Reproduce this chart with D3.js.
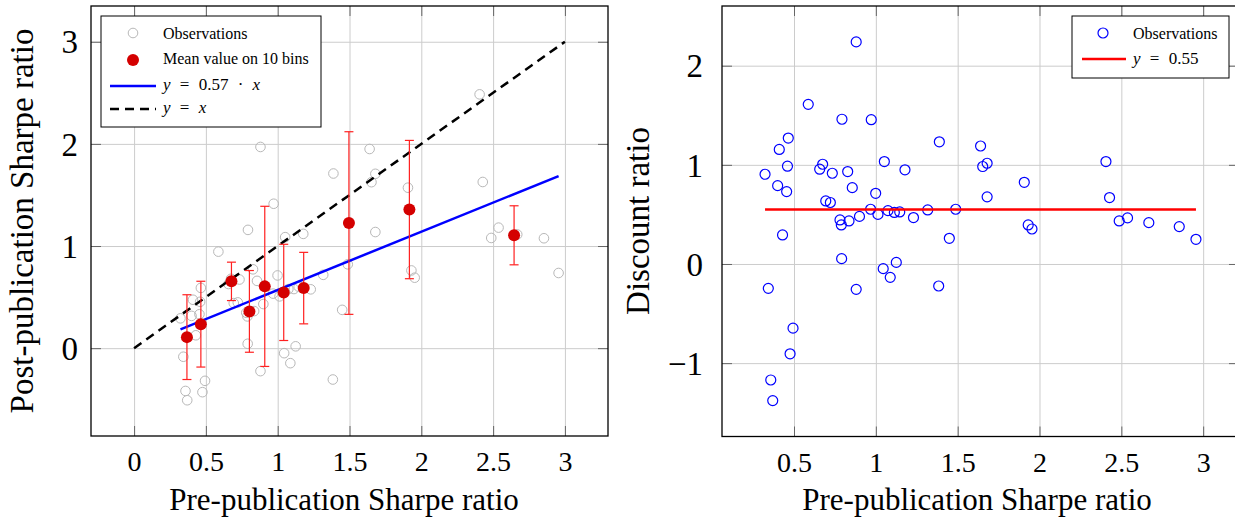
<!DOCTYPE html>
<html>
<head>
<meta charset="utf-8">
<script src="https://cdn.jsdelivr.net/npm/d3@7"></script>
<style>
  body { margin: 0; background: #fff; }
  svg { display: block; }
</style>
</head>
<body>
<svg id="chart" width="1235" height="521"></svg>
<script>
// pre-publication Sharpe ratio of each factor (shared by both panels)
const preSharpe = [
  0.88, 0.587, 0.793, 0.972, 0.465, 0.41, 1.388, 0.323, 0.46, 0.675,
  0.657, 0.734, 0.828, 1.052, 1.178, 0.40, 0.455, 0.856, 0.999, 0.694,
  0.722, 0.968, 1.013, 1.074, 1.113, 1.146, 0.90, 1.23, 1.317, 1.488,
  0.781, 0.836, 0.789, 0.43, 1.449, 0.791, 0.343, 0.88, 1.045, 1.125,
  1.088, 1.384, 0.494, 0.476, 0.358, 0.37, 1.64, 1.653, 1.68, 1.68,
  1.907, 1.931, 1.954, 2.406, 2.428, 2.487, 2.538, 2.668, 2.854, 2.956
];
const postSharpe = [
  1.97, 0.945, 1.158, 1.414, 0.59, 0.474, 1.71, 0.292, 0.454, 0.679,
  0.628, 0.672, 0.772, 1.087, 1.119, 0.316, 0.332, 0.659, 0.712, 0.441,
  0.448, 0.534, 0.507, 0.578, 0.579, 0.602, 0.432, 0.576, 0.718, 0.821,
  0.347, 0.363, 0.311, 0.126, 0.375, 0.043, -0.084, -0.225, -0.049, 0.018,
  -0.147, -0.307, -0.32, -0.431, -0.419, -0.51, 1.95, 1.625, 1.707, 1.137,
  1.571, 0.761, 0.69, 2.485, 1.627, 1.079, 1.18, 1.113, 1.076, 0.736
];
const discountRatio = [
  2.24, 1.61, 1.46, 1.455, 1.27, 1.155, 1.232, 0.905, 0.986, 1.006,
  0.956, 0.915, 0.932, 1.033, 0.95, 0.79, 0.73, 0.77, 0.713, 0.636,
  0.62, 0.552, 0.50, 0.538, 0.52, 0.525, 0.48, 0.468, 0.545, 0.552,
  0.444, 0.434, 0.394, 0.293, 0.259, 0.054, -0.246, -0.256, -0.047, 0.016,
  -0.135, -0.222, -0.647, -0.906, -1.17, -1.378, 1.19, 0.983, 1.016, 0.677,
  0.824, 0.394, 0.353, 1.033, 0.67, 0.434, 0.465, 0.417, 0.377, 0.249
];

// mean value on 10 bins (+/- error)
const binCenters = [0.368, 0.465, 0.678, 0.803, 0.91, 1.042, 1.181, 1.496, 1.917, 2.646];
const binMeans = [0.108, 0.235, 0.654, 0.36, 0.605, 0.546, 0.588, 1.225, 1.357, 1.105];
const binErrors = [0.415, 0.42, 0.188, 0.4, 0.784, 0.471, 0.35, 0.894, 0.677, 0.289];

// fitted lines (end points)
const fitX = [0.323, 2.956];
const fitY = [0.184, 1.685];
const identityX = [0, 3];
const identityY = [0, 3];
const discountX = [0.323, 2.956];
const discountY = [0.55, 0.55];

// ticks
const leftXTicks = [0, 0.5, 1, 1.5, 2, 2.5, 3];
const leftYTicks = [0, 1, 2, 3];
const rightXTicks = [0.5, 1, 1.5, 2, 2.5, 3];
const rightYTicks = [-1, 0, 1, 2];

const FONT = "'Liberation Serif', 'DejaVu Serif', serif";
const svg = d3.select("#chart");

function fmt(d) {
  return d < 0 ? "\u2212" + Math.abs(d) : String(d);
}

function drawGrid(xScale, yScale, xTicks, yTicks) {
  const [x0, x1] = xScale.range();
  const [y0, y1] = yScale.range();
  const grid = svg.append("g");
  grid.append("g")
    .attr("transform", "translate(0," + y0 + ")")
    .call(d3.axisBottom(xScale).tickValues(xTicks).tickSize(-(y0 - y1)).tickFormat(""));
  grid.append("g")
    .attr("transform", "translate(" + x0 + ",0)")
    .call(d3.axisLeft(yScale).tickValues(yTicks).tickSize(-(x1 - x0)).tickFormat(""));
  grid.selectAll(".domain").remove();
  grid.selectAll("line").attr("stroke", "#cccccc").attr("stroke-width", 1);
}

function drawAxes(xScale, yScale, xTicks, yTicks, yLabelGap) {
  const [x0, x1] = xScale.range();
  const [y0, y1] = yScale.range();

  const bottom = svg.append("g")
    .attr("transform", "translate(0," + y0 + ")")
    .call(d3.axisBottom(xScale).tickValues(xTicks).tickSize(-10).tickFormat(fmt));
  const top = svg.append("g")
    .attr("transform", "translate(0," + y1 + ")")
    .call(d3.axisTop(xScale).tickValues(xTicks).tickSize(-10).tickFormat(""));
  const left = svg.append("g")
    .attr("transform", "translate(" + x0 + ",0)")
    .call(d3.axisLeft(yScale).tickValues(yTicks).tickSize(-10).tickFormat(fmt));
  const right = svg.append("g")
    .attr("transform", "translate(" + x1 + ",0)")
    .call(d3.axisRight(yScale).tickValues(yTicks).tickSize(-10).tickFormat(""));

  [bottom, top, left, right].forEach((a) => {
    a.select(".domain").remove();
    a.selectAll("line").attr("stroke", "#666").attr("stroke-width", 1);
    a.attr("font-family", FONT);
  });

  bottom.selectAll("text")
    .attr("y", 35).attr("dy", null)
    .attr("font-size", 28).attr("fill", "#000");
  left.selectAll("text")
    .attr("x", -yLabelGap).attr("dy", "0.34em")
    .attr("font-size", 33).attr("fill", "#000");

  svg.append("rect")
    .attr("x", x0).attr("y", y1)
    .attr("width", x1 - x0).attr("height", y0 - y1)
    .attr("fill", "none").attr("stroke", "#000").attr("stroke-width", 1.3);
}

function axisLabels(xText, xCenter, yText, yBase) {
  svg.append("text")
    .attr("x", xCenter).attr("y", 510)
    .attr("text-anchor", "middle")
    .attr("font-family", FONT).attr("font-size", 31)
    .text(xText);
  svg.append("text")
    .attr("transform", "translate(" + yBase + ",221) rotate(-90)")
    .attr("text-anchor", "middle")
    .attr("font-family", FONT).attr("font-size", 33)
    .text(yText);
}

function mathText(g, x, y, parts) {
  const t = g.append("text")
    .attr("x", x).attr("y", y)
    .attr("font-family", FONT).attr("font-size", 17)
    .attr("word-spacing", 5);
  parts.forEach((p) => {
    t.append("tspan")
      .attr("font-style", p.italic ? "italic" : null)
      .text(p.s);
  });
}

// ---------- left panel ----------
function drawLeft() {
  const x = d3.scaleLinear().domain([-0.3, 3.3]).range([91, 608]);
  const y = d3.scaleLinear().domain([-0.86, 3.35]).range([436, 6]);

  drawGrid(x, y, leftXTicks, leftYTicks);
  drawAxes(x, y, leftXTicks, leftYTicks, 13);

  svg.append("g")
    .selectAll("circle")
    .data(preSharpe)
    .enter()
    .append("circle")
    .attr("cx", (d) => x(d))
    .attr("cy", (d, i) => y(postSharpe[i]))
    .attr("r", 4.8)
    .attr("fill", "none")
    .attr("stroke", "#b8b8b8")
    .attr("stroke-width", 1);

  const line = d3.line().x((d) => x(d[0])).y((d) => y(d[1]));

  svg.append("path")
    .datum(fitX.map((v, i) => [v, fitY[i]]))
    .attr("fill", "none").attr("stroke", "#0000ff").attr("stroke-width", 2.5)
    .attr("d", line);

  svg.append("path")
    .datum(identityX.map((v, i) => [v, identityY[i]]))
    .attr("fill", "none").attr("stroke", "#000").attr("stroke-width", 2.5)
    .attr("stroke-dasharray", "9,6")
    .attr("d", line);

  const bars = svg.append("g")
    .selectAll("g")
    .data(binCenters)
    .enter()
    .append("g")
    .attr("stroke", "#ff2020")
    .attr("stroke-width", 1.2);
  bars.append("line")
    .attr("x1", (d) => x(d)).attr("x2", (d) => x(d))
    .attr("y1", (d, i) => y(binMeans[i] - binErrors[i]))
    .attr("y2", (d, i) => y(binMeans[i] + binErrors[i]));
  bars.append("line")
    .attr("x1", (d) => x(d) - 4.5).attr("x2", (d) => x(d) + 4.5)
    .attr("y1", (d, i) => y(binMeans[i] - binErrors[i]))
    .attr("y2", (d, i) => y(binMeans[i] - binErrors[i]));
  bars.append("line")
    .attr("x1", (d) => x(d) - 4.5).attr("x2", (d) => x(d) + 4.5)
    .attr("y1", (d, i) => y(binMeans[i] + binErrors[i]))
    .attr("y2", (d, i) => y(binMeans[i] + binErrors[i]));

  svg.append("g")
    .selectAll("circle")
    .data(binCenters)
    .enter()
    .append("circle")
    .attr("cx", (d) => x(d))
    .attr("cy", (d, i) => y(binMeans[i]))
    .attr("r", 6)
    .attr("fill", "#d40000");

  axisLabels("Pre-publication Sharpe ratio", 344, "Post-publication Sharpe ratio", 33);

  // legend
  const lg = svg.append("g");
  lg.append("rect")
    .attr("x", 101).attr("y", 16).attr("width", 220).attr("height", 111)
    .attr("fill", "#fff").attr("stroke", "#000").attr("stroke-width", 1);
  lg.append("circle").attr("cx", 133).attr("cy", 33).attr("r", 4.8)
    .attr("fill", "none").attr("stroke", "#b8b8b8");
  lg.append("circle").attr("cx", 133).attr("cy", 60).attr("r", 6)
    .attr("fill", "#d40000");
  lg.append("line").attr("x1", 110).attr("x2", 156).attr("y1", 86).attr("y2", 86)
    .attr("stroke", "#0000ff").attr("stroke-width", 2.5);
  lg.append("line").attr("x1", 110).attr("x2", 156).attr("y1", 109).attr("y2", 109)
    .attr("stroke", "#000").attr("stroke-width", 2.5).attr("stroke-dasharray", "9,6");
  lg.append("text").attr("x", 163).attr("y", 38.5)
    .attr("font-family", FONT).attr("font-size", 16).text("Observations");
  lg.append("text").attr("x", 163).attr("y", 64)
    .attr("font-family", FONT).attr("font-size", 16).text("Mean value on 10 bins");
  mathText(lg, 163, 90, [{ s: "y", italic: true }, { s: " = 0.57 \u00b7 " }, { s: "x", italic: true }]);
  mathText(lg, 163, 113, [{ s: "y", italic: true }, { s: " = " }, { s: "x", italic: true }]);
}

// ---------- right panel ----------
function drawRight() {
  const x = d3.scaleLinear().domain([0.06, 3.219]).range([722, 1239]);
  const y = d3.scaleLinear().domain([-1.74, 2.602]).range([436.5, 6]);

  drawGrid(x, y, rightXTicks, rightYTicks);
  drawAxes(x, y, rightXTicks, rightYTicks, 19);

  svg.append("g")
    .selectAll("circle")
    .data(preSharpe)
    .enter()
    .append("circle")
    .attr("cx", (d) => x(d))
    .attr("cy", (d, i) => y(discountRatio[i]))
    .attr("r", 5)
    .attr("fill", "none")
    .attr("stroke", "#0000ff")
    .attr("stroke-width", 1.2);

  const line = d3.line().x((d) => x(d[0])).y((d) => y(d[1]));
  svg.append("path")
    .datum(discountX.map((v, i) => [v, discountY[i]]))
    .attr("fill", "none").attr("stroke", "#ff0000").attr("stroke-width", 2.5)
    .attr("d", line);

  axisLabels("Pre-publication Sharpe ratio", 977, "Discount ratio", 649);

  const lg = svg.append("g");
  lg.append("rect")
    .attr("x", 1072).attr("y", 16).attr("width", 157).attr("height", 62)
    .attr("fill", "#fff").attr("stroke", "#000").attr("stroke-width", 1);
  lg.append("circle").attr("cx", 1103).attr("cy", 33).attr("r", 5)
    .attr("fill", "none").attr("stroke", "#0000ff").attr("stroke-width", 1.2);
  lg.append("line").attr("x1", 1082).attr("x2", 1126).attr("y1", 59).attr("y2", 59)
    .attr("stroke", "#ff0000").attr("stroke-width", 2.5);
  lg.append("text").attr("x", 1133).attr("y", 38.5)
    .attr("font-family", FONT).attr("font-size", 16).text("Observations");
  mathText(lg, 1133, 64, [{ s: "y", italic: true }, { s: " = 0.55" }]);
}

drawLeft();
drawRight();
</script>
</body>
</html>
